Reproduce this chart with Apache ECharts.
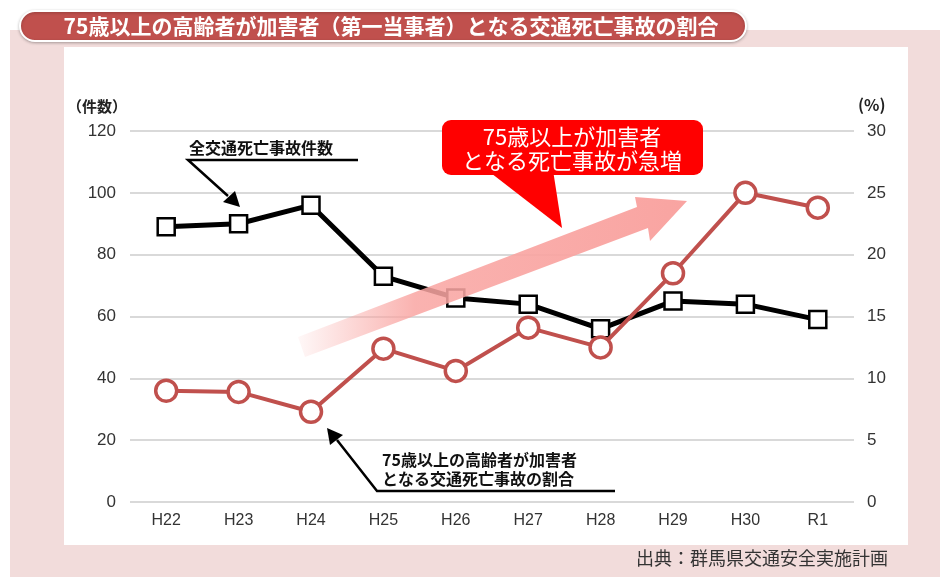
<!DOCTYPE html>
<html>
<head>
<meta charset="utf-8">
<script src="https://cdn.jsdelivr.net/npm/echarts@6/dist/echarts.min.js"></script>
<style>
  html, body { margin: 0; padding: 0; background: #fff; }
  #main { width: 940px; height: 577px; }
</style>
</head>
<body>
<div id="main"></div>
<script>
// data
var years = ['H22', 'H23', 'H24', 'H25', 'H26', 'H27', 'H28', 'H29', 'H30', 'R1'];
var allDeaths = [89, 90, 96, 73, 66, 64, 56, 65, 64, 59];          // 全交通死亡事故件数
var elderShare = [9.0, 8.9, 7.3, 12.4, 10.6, 14.1, 12.5, 18.5, 25.0, 23.8]; // 割合 (%)

var leftTicks = { min: 0, max: 120, interval: 20 };
var rightTicks = { min: 0, max: 30, interval: 5 };

var jp = '"Noto Sans CJK JP", sans-serif';
var num = '"Liberation Sans", Arial, sans-serif';
var red = '#c0504d';

var dom = document.getElementById('main');
var myChart = echarts.init(dom);
var option;

option = {
  animation: false,
  backgroundColor: '#fff',
  grid: {
    left: 130,
    right: 86,
    top: 131,
    bottom: 75
  },
  xAxis: {
    type: 'category',
    data: years,
    axisLine: { show: false },
    axisTick: { show: false },
    axisLabel: {
      color: '#333',
      fontFamily: num,
      fontSize: 16,
      margin: 11
    }
  },
  yAxis: [
    {
      type: 'value',
      min: leftTicks.min,
      max: leftTicks.max,
      interval: leftTicks.interval,
      axisLine: { show: false },
      axisTick: { show: false },
      axisLabel: { color: '#333', fontFamily: num, fontSize: 17, margin: 14 },
      splitLine: { lineStyle: { color: '#d9d9d9', width: 2 } }
    },
    {
      type: 'value',
      min: rightTicks.min,
      max: rightTicks.max,
      interval: rightTicks.interval,
      axisLine: { show: false },
      axisTick: { show: false },
      axisLabel: { color: '#333', fontFamily: num, fontSize: 17, margin: 13 },
      splitLine: { show: false }
    }
  ],
  series: [
    {
      name: '全交通死亡事故件数',
      type: 'line',
      yAxisIndex: 0,
      data: allDeaths,
      symbol: 'rect',
      symbolSize: 17,
      z: 2,
      lineStyle: { color: '#000', width: 5 },
      itemStyle: { color: '#fff', borderColor: '#000', borderWidth: 2.5 }
    },
    {
      name: '75歳以上の高齢者が加害者となる交通死亡事故の割合',
      type: 'line',
      yAxisIndex: 1,
      data: elderShare,
      symbol: 'circle',
      symbolSize: 21,
      z: 3,
      lineStyle: { color: red, width: 4 },
      itemStyle: { color: '#fff', borderColor: red, borderWidth: 3.5 }
    }
  ],
  graphic: [
    // pink frame and white panel
    { type: 'rect', z: -10, silent: true, shape: { x: 10, y: 30, width: 930, height: 547 }, style: { fill: '#f2dcdb' } },
    { type: 'rect', z: -9, silent: true, shape: { x: 64, y: 47, width: 844, height: 498 }, style: { fill: '#fff' } },
    // title pill
    {
      type: 'rect', z: 50, shape: { x: 20, y: 11, width: 726, height: 30, r: 15 },
      style: { fill: red, stroke: '#fff', lineWidth: 2, shadowBlur: 3, shadowColor: 'rgba(0,0,0,0.25)', shadowOffsetY: 1 }
    },
    {
      type: 'text', z: 51, x: 391, y: 26,
      style: {
        text: '75歳以上の高齢者が加害者（第一当事者）となる交通死亡事故の割合',
        fill: '#fff', font: 'bold 21px ' + jp, align: 'center', verticalAlign: 'middle'
      }
    },
    // axis units
    { type: 'text', z: 50, x: 127, y: 106, style: { text: '（件数）', fill: '#222', font: 'bold 15px ' + jp, align: 'right', verticalAlign: 'middle' } },
    { type: 'text', z: 50, x: 858, y: 105, style: { text: '(%)', fill: '#222', font: 'bold 16px ' + jp, align: 'left', verticalAlign: 'middle' } },
    // pink trend arrow
    {
      type: 'polygon', z: 40, silent: true,
      shape: { points: [[298, 337], [637, 207], [635, 197], [687, 201], [650, 241], [648, 228], [305, 357]] },
      style: {
        fill: new echarts.graphic.LinearGradient(0, 0, 1, 0, [
          { offset: 0, color: 'rgba(249,165,162,0.08)' },
          { offset: 0.3, color: 'rgba(249,165,162,0.85)' },
          { offset: 1, color: '#f9a4a1' }
        ])
      }
    },
    // red callout
    {
      type: 'polygon', z: 45, silent: true,
      shape: { points: [[487, 170], [553, 170], [562, 228]] },
      style: { fill: '#ff0000' }
    },
    {
      type: 'rect', z: 45, silent: true,
      shape: { x: 442, y: 120, width: 261, height: 55, r: 9 },
      style: { fill: '#ff0000' }
    },
    {
      type: 'text', z: 46, x: 572, y: 149,
      style: {
        text: '75歳以上が加害者\nとなる死亡事故が急増',
        fill: '#fff', font: '22px ' + jp, lineHeight: 24, align: 'center', verticalAlign: 'middle'
      }
    },
    // annotation: all deaths
    { type: 'text', z: 50, x: 189, y: 148, style: { text: '全交通死亡事故件数', fill: '#111', font: 'bold 16px ' + jp, align: 'left', verticalAlign: 'middle' } },
    {
      type: 'polyline', z: 50, silent: true,
      shape: { points: [[358, 160], [188, 160], [228, 196]] },
      style: { stroke: '#000', lineWidth: 2.5, fill: null }
    },
    { type: 'polygon', z: 50, silent: true, shape: { points: [[223, 202], [235, 191], [240, 207]] }, style: { fill: '#000' } },
    // annotation: elder share
    {
      type: 'text', z: 50, x: 382, y: 469,
      style: {
        text: '75歳以上の高齢者が加害者\nとなる交通死亡事故の割合',
        fill: '#111', font: 'bold 16px ' + jp, lineHeight: 19, align: 'left', verticalAlign: 'middle'
      }
    },
    {
      type: 'polyline', z: 50, silent: true,
      shape: { points: [[615, 491], [377, 491], [337, 440]] },
      style: { stroke: '#000', lineWidth: 2.5, fill: null }
    },
    { type: 'polygon', z: 50, silent: true, shape: { points: [[343, 435], [330, 445], [327, 428]] }, style: { fill: '#000' } },
    // source
    { type: 'text', z: 50, x: 888, y: 558, style: { text: '出典：群馬県交通安全実施計画', fill: '#333', font: '18px ' + jp, align: 'right', verticalAlign: 'middle' } }
  ]
};

if (option && typeof option === 'object') {
  myChart.setOption(option);
}
</script>
</body>
</html>
